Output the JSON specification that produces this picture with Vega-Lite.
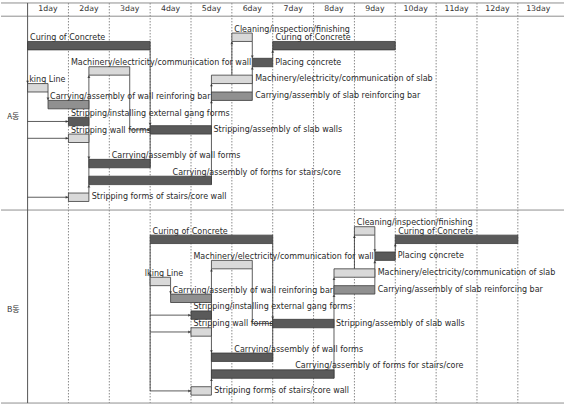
{
  "$schema": "https://vega.github.io/schema/vega-lite/v6.json",
  "width": 565,
  "height": 407,
  "padding": 0,
  "autosize": {"type": "fit", "contains": "padding"},
  "background": "white",
  "config": {"view": {"stroke": null}},
  "datasets": {
    "tasks": [
      {"sec":"A","label":"Curing of Concrete","start":0,"end":3,"slot":3,"slotEnd":4,"kind":"dark","lx":0.06,"lpos":"above"},
      {"sec":"A","label":"Cleaning/inspection/finishing","start":5,"end":5.5,"slot":2,"slotEnd":3,"kind":"light","lx":5.06,"lpos":"above"},
      {"sec":"A","label":"Curing of Concrete","start":6,"end":9,"slot":3,"slotEnd":4,"kind":"dark","lx":6.07,"lpos":"above"},
      {"sec":"A","label":"Placing concrete","start":5.5,"end":6,"slot":5,"slotEnd":6,"kind":"dark","lx":6.06,"lpos":"right"},
      {"sec":"A","label":"Machinery/electricity/communication for wall","start":1.5,"end":2.5,"slot":6,"slotEnd":7,"kind":"light","lx":1.06,"lpos":"above"},
      {"sec":"A","label":"Machinery/electricity/communication of slab","start":4.5,"end":5.5,"slot":7,"slotEnd":8,"kind":"light","lx":5.57,"lpos":"right"},
      {"sec":"A","label":"king Line","start":0,"end":0.5,"slot":8,"slotEnd":9,"kind":"light","lx":0.04,"lpos":"above"},
      {"sec":"A","label":"Carrying/assembly of slab reinforcing bar","start":4.5,"end":5.5,"slot":9,"slotEnd":10,"kind":"medium","lx":5.57,"lpos":"right"},
      {"sec":"A","label":"Carrying/assembly of wall reinforing bar","start":0.5,"end":1.5,"slot":10,"slotEnd":11,"kind":"medium","lx":0.55,"lpos":"above"},
      {"sec":"A","label":"Stripping/installing external gang forms","start":1,"end":1.5,"slot":12,"slotEnd":13,"kind":"dark","lx":1.06,"lpos":"above"},
      {"sec":"A","label":"Stripping/assembly of slab walls","start":3,"end":4.5,"slot":13,"slotEnd":14,"kind":"dark","lx":4.55,"lpos":"right"},
      {"sec":"A","label":"Stripping wall forms","start":1,"end":1.5,"slot":14,"slotEnd":15,"kind":"light","lx":1.06,"lpos":"above"},
      {"sec":"A","label":"Carrying/assembly of wall forms","start":1.5,"end":3,"slot":17,"slotEnd":18,"kind":"dark","lx":2.06,"lpos":"above"},
      {"sec":"A","label":"Carrying/assembly of forms for stairs/core","start":1.5,"end":4.5,"slot":19,"slotEnd":20,"kind":"dark","lx":3.55,"lpos":"above"},
      {"sec":"A","label":"Stripping forms of stairs/core wall","start":1,"end":1.5,"slot":21,"slotEnd":22,"kind":"light","lx":1.57,"lpos":"right"},
      {"sec":"B","label":"Curing of Concrete","start":3,"end":6,"slot":26,"slotEnd":27,"kind":"dark","lx":3.06,"lpos":"above"},
      {"sec":"B","label":"Cleaning/inspection/finishing","start":8,"end":8.5,"slot":25,"slotEnd":26,"kind":"light","lx":8.06,"lpos":"above"},
      {"sec":"B","label":"Curing of Concrete","start":9,"end":12,"slot":26,"slotEnd":27,"kind":"dark","lx":9.07,"lpos":"above"},
      {"sec":"B","label":"Placing concrete","start":8.5,"end":9,"slot":28,"slotEnd":29,"kind":"dark","lx":9.06,"lpos":"right"},
      {"sec":"B","label":"Machinery/electricity/communication for wall","start":4.5,"end":5.5,"slot":29,"slotEnd":30,"kind":"light","lx":4.06,"lpos":"above"},
      {"sec":"B","label":"Machinery/electricity/communication of slab","start":7.5,"end":8.5,"slot":30,"slotEnd":31,"kind":"light","lx":8.57,"lpos":"right"},
      {"sec":"B","label":"lking Line","start":3,"end":3.5,"slot":31,"slotEnd":32,"kind":"light","lx":2.87,"lpos":"above"},
      {"sec":"B","label":"Carrying/assembly of slab reinforcing bar","start":7.5,"end":8.5,"slot":32,"slotEnd":33,"kind":"medium","lx":8.57,"lpos":"right"},
      {"sec":"B","label":"Carrying/assembly of wall reinforing bar","start":3.5,"end":4.5,"slot":33,"slotEnd":34,"kind":"medium","lx":3.55,"lpos":"above"},
      {"sec":"B","label":"Stripping/installing external gang forms","start":4,"end":4.5,"slot":35,"slotEnd":36,"kind":"dark","lx":4.06,"lpos":"above"},
      {"sec":"B","label":"Stripping/assembly of slab walls","start":6,"end":7.5,"slot":36,"slotEnd":37,"kind":"dark","lx":7.55,"lpos":"right"},
      {"sec":"B","label":"Stripping wall forms","start":4,"end":4.5,"slot":37,"slotEnd":38,"kind":"light","lx":4.06,"lpos":"above"},
      {"sec":"B","label":"Carrying/assembly of wall forms","start":4.5,"end":6,"slot":40,"slotEnd":41,"kind":"dark","lx":5.06,"lpos":"above"},
      {"sec":"B","label":"Carrying/assembly of forms for stairs/core","start":4.5,"end":7.5,"slot":42,"slotEnd":43,"kind":"dark","lx":6.55,"lpos":"above"},
      {"sec":"B","label":"Stripping forms of stairs/core wall","start":4,"end":4.5,"slot":44,"slotEnd":45,"kind":"light","lx":4.57,"lpos":"right"}
    ],
    "conn": [
      {"t1":0.5,"t2":0.5,"s1":9,"s2":10},
      {"t1":0,"t2":1,"s1":12.5,"s2":12.5},
      {"t1":0,"t2":1,"s1":14.5,"s2":14.5},
      {"t1":0,"t2":1,"s1":21.5,"s2":21.5},
      {"t1":1.5,"t2":1.5,"s1":7,"s2":21},
      {"t1":2.5,"t2":2.5,"s1":7,"s2":13.5},
      {"t1":2.5,"t2":3,"s1":13.5,"s2":13.5},
      {"t1":3,"t2":3,"s1":4,"s2":18},
      {"t1":4.5,"t2":4.5,"s1":8,"s2":20},
      {"t1":5,"t2":5,"s1":3,"s2":7},
      {"t1":5.5,"t2":5.5,"s1":3,"s2":5},
      {"t1":5.5,"t2":5.5,"s1":6,"s2":9},
      {"t1":6,"t2":6,"s1":4,"s2":5},
      {"t1":3.5,"t2":3.5,"s1":32,"s2":33},
      {"t1":3,"t2":4,"s1":35.5,"s2":35.5},
      {"t1":3,"t2":4,"s1":37.5,"s2":37.5},
      {"t1":3,"t2":4,"s1":44.5,"s2":44.5},
      {"t1":3,"t2":3,"s1":27,"s2":44.5},
      {"t1":4.5,"t2":4.5,"s1":30,"s2":44},
      {"t1":5.5,"t2":5.5,"s1":30,"s2":36.5},
      {"t1":5.5,"t2":6,"s1":36.5,"s2":36.5},
      {"t1":6,"t2":6,"s1":27,"s2":41},
      {"t1":7.5,"t2":7.5,"s1":31,"s2":43},
      {"t1":8,"t2":8,"s1":26,"s2":30},
      {"t1":8.5,"t2":8.5,"s1":26,"s2":28},
      {"t1":8.5,"t2":8.5,"s1":29,"s2":32},
      {"t1":9,"t2":9,"s1":27,"s2":28}
    ],
    "arrows": [
      {"t":0,"s":8,"dir":"down"},{"t":0.5,"s":10,"dir":"down"},
      {"t":1,"s":12.5,"dir":"right"},{"t":1,"s":14.5,"dir":"right"},{"t":1,"s":21.5,"dir":"right"},
      {"t":1.5,"s":7,"dir":"up"},{"t":1.5,"s":17,"dir":"down"},{"t":1.5,"s":20,"dir":"up"},
      {"t":3,"s":13,"dir":"down"},{"t":3,"s":13.5,"dir":"right"},
      {"t":4.5,"s":8,"dir":"up"},{"t":4.5,"s":10,"dir":"up"},
      {"t":5,"s":3,"dir":"up"},{"t":5.5,"s":5,"dir":"down"},{"t":5.5,"s":6,"dir":"up"},{"t":6,"s":4,"dir":"up"},
      {"t":3,"s":31,"dir":"down"},{"t":3.5,"s":33,"dir":"down"},
      {"t":4,"s":35.5,"dir":"right"},{"t":4,"s":37.5,"dir":"right"},{"t":4,"s":44.5,"dir":"right"},
      {"t":4.5,"s":30,"dir":"up"},{"t":4.5,"s":40,"dir":"down"},{"t":4.5,"s":43,"dir":"up"},
      {"t":6,"s":36,"dir":"down"},{"t":6,"s":36.5,"dir":"right"},
      {"t":7.5,"s":31,"dir":"up"},{"t":7.5,"s":33,"dir":"up"},
      {"t":8,"s":26,"dir":"up"},{"t":8.5,"s":28,"dir":"down"},{"t":8.5,"s":29,"dir":"up"},{"t":9,"s":27,"dir":"up"}
    ],
    "grid": [{"t":1},{"t":2},{"t":3},{"t":4},{"t":5},{"t":6},{"t":7},{"t":8},{"t":9},{"t":10},{"t":11},{"t":12}],
    "hlines": [{"s":-1.57,"w":"top"},{"s":0,"w":"hdr"},{"s":23.02,"w":"div"},{"s":45.94,"w":"bot"}],
    "days": [
      {"d":"1day","c":0.5},{"d":"2day","c":1.5},{"d":"3day","c":2.5},{"d":"4day","c":3.5},{"d":"5day","c":4.5},
      {"d":"6day","c":5.5},{"d":"7day","c":6.5},{"d":"8day","c":7.5},{"d":"9day","c":8.5},{"d":"10day","c":9.5},
      {"d":"11day","c":10.5},{"d":"12day","c":11.5},{"d":"13day","c":12.5}
    ],
    "sections": [{"name":"A동","t":-0.35,"s":11.95},{"name":"B동","t":-0.35,"s":34.9}]
  },
  "layer": [
    {
      "data": {"name": "grid"},
      "mark": {"type": "rule", "stroke": "#8a8a8a", "strokeWidth": 1, "strokeDash": [1.5, 1.5]},
      "encoding": {
        "x": {"field": "t", "type": "quantitative", "scale": {"domain": [-0.651, 13.13], "nice": false, "zero": false}, "axis": null},
        "y": {"datum": -1.57, "type": "quantitative", "scale": {"domain": [-1.924, 46.41], "nice": false, "zero": false, "reverse": true}, "axis": null},
        "y2": {"datum": 45.94}
      }
    },
    {
      "data": {"name": "hlines"},
      "mark": {"type": "rule", "stroke": "#8f8f8f", "strokeWidth": 1},
      "encoding": {
        "y": {"field": "s", "type": "quantitative", "axis": null}
      }
    },
    {
      "data": {"values": [{"t": 0}]},
      "mark": {"type": "rule", "stroke": "#555555", "strokeWidth": 1},
      "encoding": {
        "x": {"field": "t", "type": "quantitative", "axis": null},
        "y": {"datum": -1.57, "type": "quantitative", "axis": null},
        "y2": {"datum": 45.94}
      }
    },
    {
      "data": {"name": "days"},
      "mark": {"type": "text", "font": "DejaVu Sans", "fontSize": 7.8, "fill": "#333333", "align": "center", "baseline": "middle"},
      "encoding": {
        "x": {"field": "c", "type": "quantitative", "axis": null},
        "y": {"datum": -0.8, "type": "quantitative", "axis": null},
        "text": {"field": "d"}
      }
    },
    {
      "data": {"name": "sections"},
      "mark": {"type": "text", "font": "Noto Sans CJK KR", "fontSize": 8, "fill": "#333333", "align": "center", "baseline": "middle"},
      "encoding": {
        "x": {"field": "t", "type": "quantitative", "axis": null},
        "y": {"field": "s", "type": "quantitative", "axis": null},
        "text": {"field": "name"}
      }
    },
    {
      "data": {"name": "tasks"},
      "transform": [{"filter": "datum.lpos === 'above'"}],
      "mark": {"type": "text", "font": "DejaVu Sans", "fontSize": 8, "fill": "#2a2a2a", "align": "left", "baseline": "alphabetic", "dy": -1.5},
      "encoding": {
        "x": {"field": "lx", "type": "quantitative", "axis": null},
        "y": {"field": "slot", "type": "quantitative", "axis": null},
        "text": {"field": "label"}
      }
    },
    {
      "data": {"name": "tasks"},
      "transform": [{"filter": "datum.lpos === 'right'"}],
      "mark": {"type": "text", "font": "DejaVu Sans", "fontSize": 8, "fill": "#2a2a2a", "align": "left", "baseline": "middle", "dy": 4.2},
      "encoding": {
        "x": {"field": "lx", "type": "quantitative", "axis": null},
        "y": {"field": "slot", "type": "quantitative", "axis": null},
        "text": {"field": "label"}
      }
    },
    {
      "data": {"name": "conn"},
      "mark": {"type": "rule", "stroke": "#333333", "strokeWidth": 0.8},
      "encoding": {
        "x": {"field": "t1", "type": "quantitative", "axis": null},
        "x2": {"field": "t2"},
        "y": {"field": "s1", "type": "quantitative", "axis": null},
        "y2": {"field": "s2"}
      }
    },
    {
      "data": {"name": "tasks"},
      "mark": {"type": "rect", "stroke": "#3a3a3a", "strokeWidth": 0.8},
      "encoding": {
        "x": {"field": "start", "type": "quantitative", "axis": null},
        "x2": {"field": "end"},
        "y": {"field": "slot", "type": "quantitative", "axis": null},
        "y2": {"field": "slotEnd"},
        "fill": {"field": "kind", "type": "nominal", "scale": {"domain": ["dark", "medium", "light"], "range": ["#5a5a5a", "#909090", "#d9d9d9"]}, "legend": null}
      }
    },
    {
      "data": {"name": "arrows"},
      "transform": [{"filter": "datum.dir === 'down'"}],
      "mark": {"type": "point", "shape": "triangle-down", "filled": true, "fill": "#222222", "size": 9, "yOffset": -1.5},
      "encoding": {
        "x": {"field": "t", "type": "quantitative", "axis": null},
        "y": {"field": "s", "type": "quantitative", "axis": null}
      }
    },
    {
      "data": {"name": "arrows"},
      "transform": [{"filter": "datum.dir === 'up'"}],
      "mark": {"type": "point", "shape": "triangle-up", "filled": true, "fill": "#222222", "size": 9, "yOffset": 1.5},
      "encoding": {
        "x": {"field": "t", "type": "quantitative", "axis": null},
        "y": {"field": "s", "type": "quantitative", "axis": null}
      }
    },
    {
      "data": {"name": "arrows"},
      "transform": [{"filter": "datum.dir === 'right'"}],
      "mark": {"type": "point", "shape": "triangle-right", "filled": true, "fill": "#222222", "size": 9, "xOffset": -1.5},
      "encoding": {
        "x": {"field": "t", "type": "quantitative", "axis": null},
        "y": {"field": "s", "type": "quantitative", "axis": null}
      }
    }
  ]
}
